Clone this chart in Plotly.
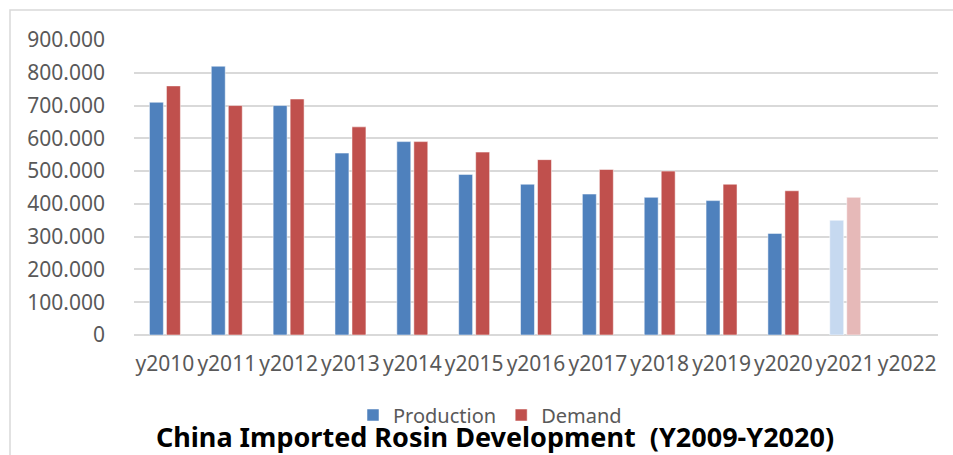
import plotly.graph_objects as go

categories = ["y2010", "y2011", "y2012", "y2013", "y2014", "y2015", "y2016",
              "y2017", "y2018", "y2019", "y2020", "y2021", "y2022"]
production = [710, 820, 700, 555, 590, 490, 460, 430, 420, 410, 310, 350, None]
demand = [760, 700, 720, 635, 590, 558, 535, 505, 500, 460, 440, 420, None]
y_ticks = [0, 100, 200, 300, 400, 500, 600, 700, 800, 900]
y_tick_labels = ["0", "100.000", "200.000", "300.000", "400.000", "500.000",
                 "600.000", "700.000", "800.000", "900.000"]

BLUE, BLUE_L = "#4F81BD", "#C6D9F0"
RED, RED_L = "#C0504D", "#E6B9B8"
prod_colors = [BLUE] * 11 + [BLUE_L, BLUE_L]
dem_colors = [RED] * 11 + [RED_L, RED_L]

W, H = 953, 455
ML, MR, MT, MB = 134, 15, 40, 120
PW, PH = W - ML - MR, H - MT - MB

fig = go.Figure()
fig.add_trace(go.Bar(name="Production", x=categories, y=production,
                     marker=dict(color=prod_colors, line=dict(color="rgba(255,255,255,0.5)", width=1))))
fig.add_trace(go.Bar(name="Demand", x=categories, y=demand,
                     marker=dict(color=dem_colors, line=dict(color="rgba(255,255,255,0.5)", width=1))))

gray = "#595959"
fig.update_layout(
    width=W, height=H,
    margin=dict(l=ML, r=MR, t=MT, b=MB, pad=0, autoexpand=False),
    paper_bgcolor="white", plot_bgcolor="white",
    barmode="group", bargap=0.45, bargroupgap=0.18,
    font=dict(family="Noto Sans", color=gray),
    showlegend=True,
    legend=dict(orientation="h", x=(490 - ML) / PW, xanchor="center",
                y=-(415 - (H - MB)) / PH,
                yanchor="middle", font=dict(size=20, color=gray),
                bgcolor="rgba(0,0,0,0)", traceorder="normal", itemwidth=30),
    title=dict(text="<b>China Imported Rosin Development  (Y2009-Y2020)</b>",
               x=495 / W, xanchor="center", xref="container",
               y=(H - 437.5) / H, yanchor="middle", yref="container",
               font=dict(family="Noto Sans", size=27, color="black")),
    xaxis=dict(showgrid=False, showline=False, zeroline=False,
               tickfont=dict(size=21, color=gray), ticks="",
               ticklabelstandoff=14),
    yaxis=dict(range=[0, 900], tickvals=y_ticks, ticktext=y_tick_labels,
               showgrid=True, gridcolor="#D9D9D9", gridwidth=1.5,
               zeroline=True, zerolinecolor="#D9D9D9", zerolinewidth=1.5,
               showline=False, ticks="", tickfont=dict(size=21, color=gray),
               ticklabelstandoff=28),
    shapes=[dict(type="rect", xref="paper", yref="paper",
                 x0=(10 - ML) / PW, x1=(W + 20 - ML) / PW,
                 y0=-(H + 20 - MT - PH) / PH, y1=(MT + PH - 10) / PH,
                 line=dict(color="#D9D9D9", width=1.5), fillcolor="rgba(0,0,0,0)",
                 layer="below")],
)

fig.write_html("out.html", config={"displayModeBar": False},
               post_script="document.body.style.margin='0';document.body.style.overflow='hidden';")
